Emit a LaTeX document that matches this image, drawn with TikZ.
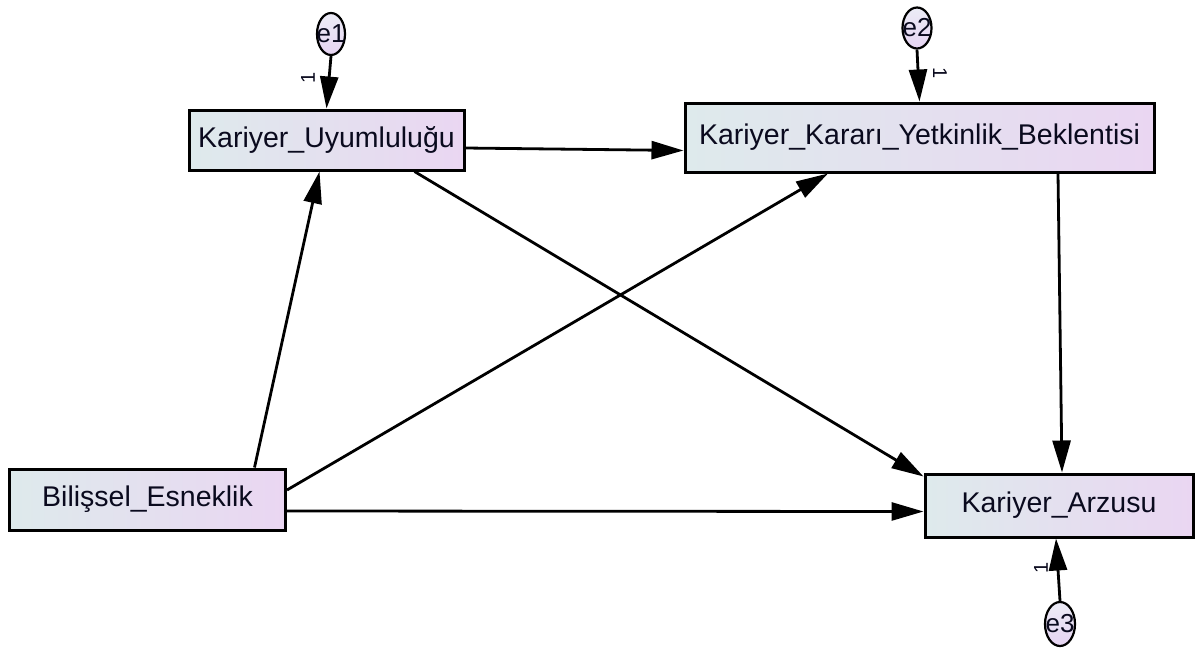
\documentclass[tikz,border=0pt]{standalone}
\usepackage{fontspec}
\setmainfont{Liberation Sans}
\usetikzlibrary{arrows.meta,shapes.geometric}
\definecolor{boxleft}{RGB}{222,234,236}
\definecolor{boxright}{RGB}{234,214,242}
\definecolor{errtop}{RGB}{236,236,246}
\definecolor{errbottom}{RGB}{230,212,242}
\definecolor{ink}{RGB}{10,10,30}
\begin{document}
\begin{tikzpicture}[x=1pt,y=-1pt,
  var/.style={rectangle, draw=black, line width=3pt, left color=boxleft, right color=boxright,
    inner sep=0pt, text=ink, font=\fontsize{28.5}{34}\selectfont},
  err/.style={ellipse, draw=black, line width=2.2pt, top color=errtop, bottom color=errbottom,
    inner sep=0pt, text=ink, font=\fontsize{26}{30}\selectfont},
  reg/.style={line width=2.8pt, -{Triangle[length=32pt,width=18pt]}},
  wt/.style={inner sep=0pt, text=ink, font=\fontsize{20}{24}\selectfont}
]
\useasboundingbox (0,0) rectangle (1196,649);

% observed variables
\node[var, minimum width=275pt, minimum height=60pt] (ku)   at (326.5,140)   {Kariyer\_Uyumluluğu};
\node[var, minimum width=469pt, minimum height=69pt] (kkyb) at (919.5,137.5) {Kariyer\_Kararı\_Yetkinlik\_Beklentisi};
\node[var, minimum width=276pt, minimum height=61pt] (be)   at (147.5,499.5) {Bilişsel\_Esneklik};
\node[var, minimum width=268pt, minimum height=63pt] (ka)   at (1059,505.5)  {Kariyer\_Arzusu};

% error terms
\node[err, minimum width=28pt, minimum height=42pt] (e1) at (331,34)  {\makebox[0pt]{e1}};
\node[err, minimum width=29pt, minimum height=41pt] (e2) at (917,28)  {\makebox[0pt]{e2}};
\node[err, minimum width=30pt, minimum height=44pt] (e3) at (1060,624) {\makebox[0pt]{e3}};

% error paths
\draw[reg] (e1.south) -- (ku.north);
\draw[reg] (e2.south) -- (kkyb.north);
\draw[reg] (e3.north) -- ([xshift=-3pt]ka.south);

% fixed weights
\node[wt, rotate=90]  (w1) at (308,78)  {1};
\node[wt, rotate=-90] (w2) at (940,73)  {1};
\node[wt, rotate=90]  (w3) at (1041,568) {1};

% structural paths
\draw[reg] ([yshift=-8pt]ku.east) -- ([yshift=-13pt]kkyb.west);
\draw[reg] ([xshift=88pt]ku.south) -- ([yshift=-4pt]ka.north west);
\draw[reg] ([xshift=107pt]be.north) -- ([xshift=-7pt]ku.south);
\draw[reg] ([yshift=9.5pt]be.east) -- ([xshift=-91.5pt]kkyb.south);
\draw[reg] ([yshift=-11.5pt]be.east) -- ([yshift=-6pt]ka.west);
\draw[reg] ([xshift=138.5pt]kkyb.south) -- ([xshift=3pt]ka.north);
\end{tikzpicture}
\end{document}
